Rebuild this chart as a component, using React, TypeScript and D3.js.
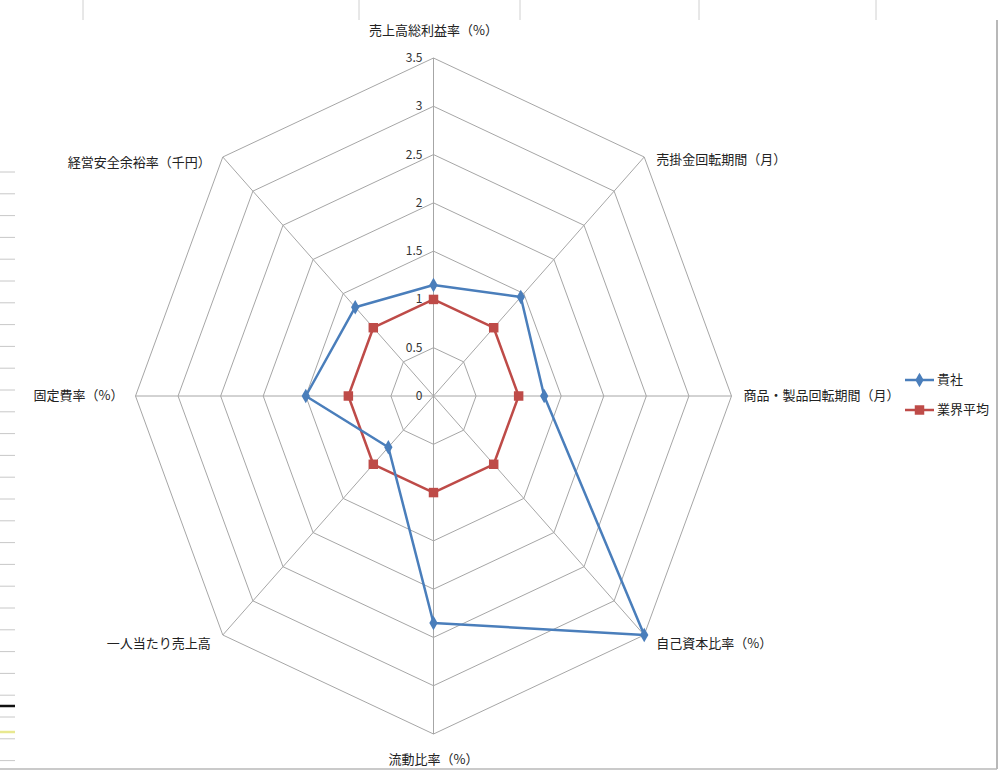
import React from "react";
import * as d3 from "d3";

const categories = [
  "売上高総利益率（%）",
  "売掛金回転期間（月）",
  "商品・製品回転期間（月）",
  "自己資本比率（%）",
  "流動比率（%）",
  "一人当たり売上高",
  "固定費率（%）",
  "経営安全余裕率（千円）",
];
const companyValues = [1.15, 1.45, 1.3, 3.5, 2.35, 0.75, 1.5, 1.3];
const industryValues = [1, 1, 1, 1, 1, 1, 1, 1];
const tickValues = [0, 0.5, 1, 1.5, 2, 2.5, 3, 3.5];
const seriesNames = ["貴社", "業界平均"];

const W = 999;
const H = 772;
const cx = 433.5;
const cy = 396;
const FONT = "'Noto Sans CJK JP', 'Noto Sans', sans-serif";

export default function App() {
  const rx = d3.scaleLinear().domain([0, 3.5]).range([0, 298]);
  const ry = d3.scaleLinear().domain([0, 3.5]).range([0, 338]);
  const angle = d3
    .scaleLinear()
    .domain([0, categories.length])
    .range([0, 2 * Math.PI]);

  const pt = (i: number, v: number): [number, number] => {
    const a = angle(i);
    return [cx + Math.sin(a) * rx(v), cy - Math.cos(a) * ry(v)];
  };

  const closed = d3.line<[number, number]>().curve(d3.curveLinearClosed);

  const ringPath = (v: number) =>
    closed(categories.map((_, i) => pt(i, v))) || "";

  const seriesPath = (vals: number[]) =>
    closed(vals.map((v, i) => pt(i, v))) || "";

  const diamond = d3.symbol(d3.symbolDiamond, 60)() || "";
  const square = d3.symbol(d3.symbolSquare, 90)() || "";

  const blue = "#4a7ebb";
  const red = "#be4b48";

  const labelPos = (i: number) => {
    const [x, y] = pt(i, 3.5);
    const a = angle(i);
    const s = Math.sin(a);
    const c = Math.cos(a);
    let anchor: "start" | "middle" | "end" = "middle";
    let lx = x;
    let ly = y;
    if (Math.abs(s) < 0.01) {
      anchor = "middle";
      ly = c > 0 ? y - 27 : y + 26;
    } else if (s > 0) {
      anchor = "start";
      lx = x + 12;
      ly = y + (Math.abs(c) < 0.01 ? 0 : c > 0 ? 3 : 9);
    } else {
      anchor = "end";
      lx = x - 12;
      ly = y + (Math.abs(c) < 0.01 ? 0 : c > 0 ? 6 : 9);
    }
    return { lx, ly, anchor };
  };

  const leftLines = d3.range(172, 770, 21.8);

  return (
    <svg
      width={W}
      height={H}
      style={{ position: "absolute", left: 0, top: 0, background: "#fff" }}
      fontFamily={FONT}
    >
      {[83, 359, 520, 699, 876].map((x) => (
        <line key={x} x1={x} x2={x} y1={0} y2={20} stroke="#d0d0d0" strokeWidth={1} />
      ))}
      {leftLines.map((y, k) => (
        <line key={k} x1={0} x2={15} y1={y} y2={y} stroke="#c8c8c8" strokeWidth={1} />
      ))}
      <line x1={0} x2={15} y1={706} y2={706} stroke="#111" strokeWidth={2.5} />
      <line x1={0} x2={15} y1={732} y2={732} stroke="#e8e890" strokeWidth={2.5} />
      <line x1={997} x2={997} y1={20} y2={769} stroke="#a0a0a0" strokeWidth={1.5} />
      <line x1={0} x2={997} y1={769} y2={769} stroke="#b8b8b8" strokeWidth={1.5} />

      {tickValues
        .filter((t) => t > 0)
        .map((t) => (
          <path key={t} d={ringPath(t)} fill="none" stroke="#a6a6a6" strokeWidth={1} />
        ))}
      {categories.map((_, i) => {
        const [x, y] = pt(i, 3.5);
        return <line key={i} x1={cx} y1={cy} x2={x} y2={y} stroke="#a6a6a6" strokeWidth={1} />;
      })}

      {tickValues.map((t) => (
        <text
          key={t}
          x={cx - 11}
          y={cy - ry(t) + 4}
          textAnchor="end"
          fontSize={12}
          fill="#333"
        >
          {t}
        </text>
      ))}

      {categories.map((c, i) => {
        const { lx, ly, anchor } = labelPos(i);
        return (
          <text
            key={c}
            x={lx}
            y={ly}
            textAnchor={anchor}
            dominantBaseline="middle"
            fontSize={13}
            fill="#222"
          >
            {c}
          </text>
        );
      })}

      <path d={seriesPath(industryValues)} fill="none" stroke={red} strokeWidth={2.5} strokeLinejoin="round" />
      {industryValues.map((v, i) => {
        const [x, y] = pt(i, v);
        return <path key={i} d={square} transform={`translate(${x},${y})`} fill={red} />;
      })}
      <path d={seriesPath(companyValues)} fill="none" stroke={blue} strokeWidth={2.5} strokeLinejoin="round" />
      {companyValues.map((v, i) => {
        const [x, y] = pt(i, v);
        return <path key={i} d={diamond} transform={`translate(${x},${y})`} fill={blue} />;
      })}

      {seriesNames.map((n, k) => {
        const y = 380 + k * 30;
        const col = k === 0 ? blue : red;
        return (
          <g key={n}>
            <line x1={905} x2={934} y1={y} y2={y} stroke={col} strokeWidth={2.5} />
            <path d={k === 0 ? diamond : square} transform={`translate(919.5,${y})`} fill={col} />
            <text x={937} y={y} dominantBaseline="middle" fontSize={13} fill="#222">
              {n}
            </text>
          </g>
        );
      })}
    </svg>
  );
}
